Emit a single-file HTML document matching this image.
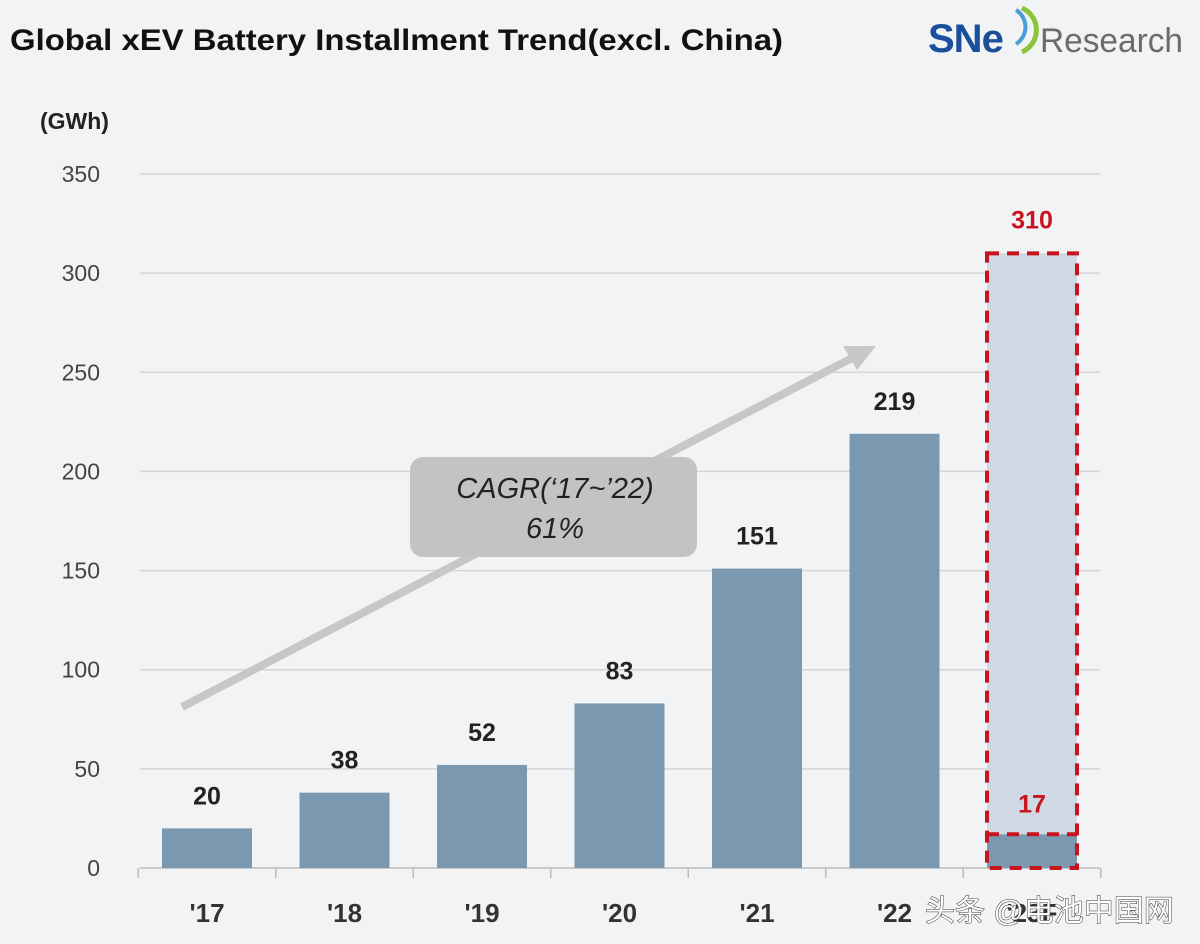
<!DOCTYPE html>
<html><head><meta charset="utf-8"><style>
html,body{margin:0;padding:0;background:#f2f3f5;}
svg{display:block;font-family:"Liberation Sans","Noto Sans CJK SC",sans-serif;}
</style></head><body>
<svg id="chart" width="1200" height="944" viewBox="0 0 1200 944">
<rect x="0" y="0" width="1200" height="944" fill="#f2f3f5"/>
<text x="10" y="50" font-size="30" font-weight="bold" fill="#111" textLength="773" lengthAdjust="spacingAndGlyphs">Global xEV Battery Installment Trend(excl. China)</text>
<g>
<text x="928" y="52" font-size="40" font-weight="bold" fill="#1a4f9c" letter-spacing="-1">SNe</text>
<path d="M1022 8 A24 24 0 0 1 1022 52" fill="none" stroke="#8cc43c" stroke-width="5"/>
<path d="M1016 10 A20 20 0 0 1 1016 44" fill="none" stroke="#4a9ed8" stroke-width="4"/>
<text x="1040" y="52" font-size="34" fill="#6b6b6b" textLength="143" lengthAdjust="spacingAndGlyphs">Research</text>
</g>
<text x="40" y="129" font-size="23" font-weight="bold" fill="#222">(GWh)</text>
<g id="grid"></g>
<g id="yticks"></g>
<g id="bars"></g>
<g id="xlabels"></g>
<g>
<line x1="182" y1="707" x2="852" y2="358" stroke="#c6c7c9" stroke-width="8"/>
<polygon points="876,346 843,346 857,370" fill="#c6c7c9"/>
</g>
<g>
<rect x="410" y="457" width="287" height="100" rx="13" fill="#c2c3c5"/>
<text x="555" y="498" font-size="29" font-style="italic" text-anchor="middle" fill="#222">CAGR(‘17~’22)</text>
<text x="555" y="538" font-size="29" font-style="italic" text-anchor="middle" fill="#222">61%</text>
</g>
<text x="925" y="921" font-size="30" fill="#fff" stroke="#333" stroke-width="1" paint-order="stroke">头条 @电池中国网</text>
</svg>
<script>
const categories = ["'17","'18","'19","'20","'21","'22","'23F"];
const values = [20,38,52,83,151,219,17];
const forecastTotal = 310;
const yTicks = [0,50,100,150,200,250,300,350];
const NS="http://www.w3.org/2000/svg";
const y0=868, pxPer=(868-174)/350;
const y = v => y0 - v*pxPer;
const x = i => 162 + i*137.5;
const bw = 90;
function mk(tag, attrs, parent){const e=document.createElementNS(NS,tag);for(const k in attrs)e.setAttribute(k,attrs[k]);document.getElementById(parent).appendChild(e);return e;}
yTicks.forEach(t=>{
  if(t>0){const l=mk('line',{x1:140,x2:1100,y1:y(t),y2:y(t),stroke:'#d4d5d8','stroke-width':1.5},'grid');
  
  }
  const tx=mk('text',{x:100,y:y(t)+8,'font-size':23,'text-anchor':'end',fill:'#444'},'yticks');
  tx.textContent=t;
  
  
});
const ax=mk('line',{x1:140,x2:1100,y1:y0,y2:y0,stroke:'#bbb','stroke-width':1.5},'grid');


for(let i=0;i<=categories.length;i++){
  const tk=mk('line',{x1:x(i)-23.75,x2:x(i)-23.75,y1:y0,y2:y0+10,stroke:'#bbb','stroke-width':1.5},'grid');
  
  
}
categories.forEach((c,i)=>{
  const last=i===categories.length-1;
  if(last){
    const fb=mk('rect',{x:x(i),y:y(forecastTotal),width:bw,height:y0-y(forecastTotal),fill:'#cfd9e3'},'bars');
    
    
  }
  const b=mk('rect',{x:x(i),y:y(values[i]),width:bw,height:y0-y(values[i]),fill:'#7a99b1'},'bars');
  
  
  if(last){
    const d1=mk('rect',{x:x(i),y:y(forecastTotal),width:bw,height:y0-y(forecastTotal),fill:'none',stroke:'#c8141e','stroke-width':4,'stroke-dasharray':'12 8'},'bars');
    
    
    const d2=mk('line',{x1:x(i),x2:x(i)+bw,y1:y(values[i]),y2:y(values[i]),stroke:'#c8141e','stroke-width':4,'stroke-dasharray':'12 8'},'bars');
    
    
    const t1=mk('text',{x:x(i)+bw/2,y:y(forecastTotal)-25,'font-size':25,'font-weight':'bold','text-anchor':'middle',fill:'#c8141e'},'bars');
    t1.textContent=forecastTotal;
    
    
    const t2=mk('text',{x:x(i)+bw/2,y:y(values[i])-22,'font-size':25,'font-weight':'bold','text-anchor':'middle',fill:'#c8141e'},'bars');
    t2.textContent=values[i];
    
    
  } else {
    const t=mk('text',{x:x(i)+bw/2,y:y(values[i])-24,'font-size':25,'font-weight':'bold','text-anchor':'middle',fill:'#222'},'bars');
    t.textContent=values[i];
    
    
  }
  const xl=mk('text',{x:x(i)+bw/2,y:922,'font-size':26,'font-weight':'bold','text-anchor':'middle',fill:'#333'},'xlabels');
  xl.textContent=c;
  
  
});
</script>
</body></html>
